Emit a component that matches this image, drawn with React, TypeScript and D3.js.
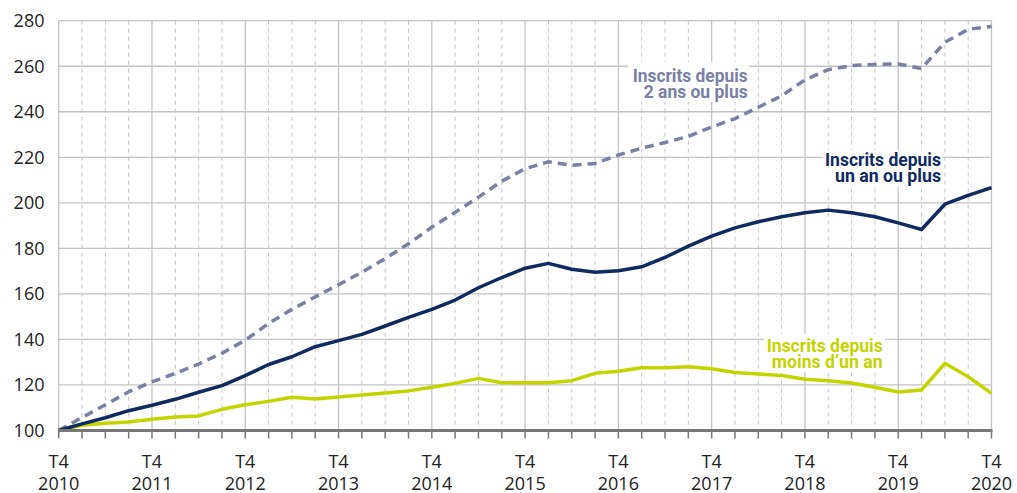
import React from "react";
import * as d3 from "d3";

const years = ["2010", "2011", "2012", "2013", "2014", "2015", "2016", "2017", "2018", "2019", "2020"];
const quarterLabel = "T4";
const yTicks = [100, 120, 140, 160, 180, 200, 220, 240, 260, 280];

const moinsUnAn = [100, 102.3, 103.2, 103.7, 104.9, 105.9, 106.4, 109.3, 111.3, 112.8, 114.6, 113.8, 114.7, 115.6, 116.5, 117.4, 119, 120.7, 122.9, 121, 121, 121, 121.9, 125.1, 126, 127.6, 127.6, 128, 127.1, 125.5, 124.8, 124.2, 122.5, 121.9, 120.9, 119, 116.9, 117.8, 129.5, 123.6, 116.3];
const unAnOuPlus = [100, 102.9, 105.6, 108.7, 111.1, 113.7, 116.8, 119.7, 124.1, 129, 132.4, 136.8, 139.5, 142.2, 145.9, 149.7, 153.2, 157.3, 162.7, 167.2, 171.3, 173.4, 170.8, 169.5, 170.2, 171.9, 176, 181, 185.4, 189, 191.7, 193.9, 195.6, 196.8, 195.6, 193.9, 191.2, 188.3, 199.4, 203.3, 206.7];
const deuxAnsOuPlus = [100, 105.7, 111.3, 117, 121.4, 125.1, 129.2, 133.9, 139.7, 147, 153.2, 158.7, 164, 169.5, 175.5, 182, 189.3, 195.8, 202.5, 209.5, 215, 218, 216.5, 217.3, 221, 224, 226.5, 229.2, 233.3, 237, 242, 247, 254, 258.5, 260.3, 260.8, 261, 259, 270.5, 276.2, 277.5];

const W = 1017;
const H = 493;
const left = 58.7;
const right = 991.5;
const top = 20.7;
const bottom = 430.5;

const NAVY = "#0e2a5e";
const GREY_BLUE = "#7980a5";
const GREEN = "#c4d400";
const GRID = "#c4c4c4";

export default function App() {
  const n = moinsUnAn.length;
  const x = d3.scaleLinear().domain([0, n - 1]).range([left, right]);
  const y = d3.scaleLinear().domain([100, 280]).range([bottom, top]);
  const line = d3
    .line<number>()
    .x((_, i) => x(i))
    .y((v) => y(v))
    .curve(d3.curveLinear);

  const idx = d3.range(n);
  const labelFont = "Roboto, 'Open Sans', sans-serif";
  const axisFont = "'Open Sans', 'DejaVu Sans', sans-serif";

  const labels = [
    { lines: ["Inscrits depuis", "2 ans ou plus"], widths: [115, 104], xr: 747.7, base: 81.7, color: GREY_BLUE, box: [628, 62, 121, 40] },
    { lines: ["Inscrits depuis", "un an ou plus"], widths: [116, 106], xr: 941, base: 165.7, color: NAVY, box: [823, 150, 119, 37] },
    { lines: ["Inscrits depuis", "moins d\u2019un an"], widths: [116, 111], xr: 882.7, base: 351.7, color: GREEN, box: [764, 334, 121, 38] },
  ];

  return (
    <svg width={W} height={H} style={{ position: "absolute", left: 0, top: 0, background: "#fff" }}>
      <rect x={0} y={0} width={W} height={H} fill="#fff" />
      {yTicks.filter((t) => t > 100).map((t) => (
        <line key={"h" + t} x1={left} x2={right} y1={y(t)} y2={y(t)} stroke={GRID} strokeWidth={1.3} />
      ))}
      {idx.map((i) => (
        <line
          key={"v" + i}
          x1={x(i)}
          x2={x(i)}
          y1={top}
          y2={bottom}
          stroke={GRID}
          strokeWidth={i % 4 === 0 ? 1.3 : 1}
          strokeDasharray={i % 4 === 0 ? undefined : "4,4"}
        />
      ))}
      {labels.map((l, k) => (
        <rect key={"bg" + k} x={l.box[0]} y={l.box[1]} width={l.box[2]} height={l.box[3]} fill="#fff" />
      ))}
      {idx.map((i) => (
        <line key={"t" + i} x1={x(i)} x2={x(i)} y1={bottom} y2={bottom + 8} stroke="#777" strokeWidth={1.5} />
      ))}
      <path d={line(deuxAnsOuPlus) || ""} fill="none" stroke={GREY_BLUE} strokeWidth={3.5} strokeDasharray="9,6" />
      <path d={line(moinsUnAn) || ""} fill="none" stroke={GREEN} strokeWidth={3.5} strokeLinejoin="round" />
      <path d={line(unAnOuPlus) || ""} fill="none" stroke={NAVY} strokeWidth={3.5} strokeLinejoin="round" />
      <line x1={left} x2={right + 1} y1={bottom} y2={bottom} stroke="#777" strokeWidth={3} />
      {yTicks.map((t) => (
        <text key={"yl" + t} x={44.5} y={y(t)} dy="0.36em" textAnchor="end" fontFamily={axisFont} fontSize={18} fill="#222">
          {t}
        </text>
      ))}
      {years.map((yr, k) => (
        <g key={"xl" + yr}>
          <text x={x(k * 4)} y={467.5} textAnchor="middle" fontFamily={axisFont} fontSize={18} fill="#222">
            {quarterLabel}
          </text>
          <text x={x(k * 4)} y={489.5} textAnchor="middle" fontFamily={axisFont} fontSize={18} fill="#222">
            {yr}
          </text>
        </g>
      ))}
      {labels.map((l, k) => (
        <g key={"lab" + k}>
          {l.lines.map((s, j) => (
            <text
              key={j}
              x={l.xr - l.widths[j]}
              y={l.base + j * 16}
              fontFamily={labelFont}
              fontWeight={700}
              fontSize={17.5}
              fill={l.color}
              textLength={l.widths[j]}
              lengthAdjust="spacingAndGlyphs"
            >
              {s}
            </text>
          ))}
        </g>
      ))}
    </svg>
  );
}
